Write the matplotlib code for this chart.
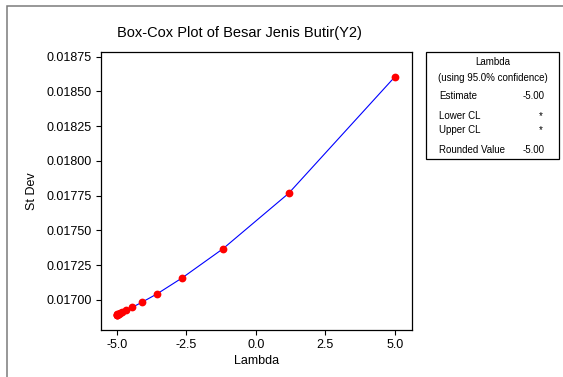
import matplotlib
matplotlib.use("Agg")
import matplotlib.pyplot as plt
from matplotlib.patches import Rectangle

plt.rcParams['font.family'] = ['Liberation Sans', 'DejaVu Sans']

# lambda values tried by the search and the resulting standard deviation
lambdas = [5.00, 1.18, -1.18, -2.64, -3.54, -4.10, -4.44, -4.66,
           -4.79, -4.87, -4.92, -4.95, -4.97, -4.98, -4.99, -5.00]
st_dev = [0.018606, 0.017766, 0.017367, 0.017158, 0.017043, 0.016981,
          0.016945, 0.016925, 0.016912, 0.016904, 0.016899, 0.016896,
          0.016894, 0.016893, 0.016892, 0.016891]

xticks = [-5.0, -2.5, 0.0, 2.5, 5.0]
yticks = [0.01700, 0.01725, 0.01750, 0.01775, 0.01800, 0.01825, 0.01850, 0.01875]

title = "Box-Cox Plot of Besar Jenis Butir(Y2)"
box_rows = [("Estimate", "-5.00"), ("Lower CL", "*"), ("Upper CL", "*"),
            ("Rounded Value", "-5.00")]

W, H = 563, 377
fig = plt.figure(figsize=(W / 100, H / 100), dpi=100)


def px(x, y):
    # pixel position (top-left origin) -> figure fraction
    return x / W, 1 - y / H


# outer frame of the graph window
fig.patches.append(Rectangle(px(7, 400), 600 / W, 394 / H, transform=fig.transFigure,
                             fill=False, edgecolor='#7a7a7a', lw=1.1))

left, top = px(100.5, 52.3)
right, bottom = px(411.9, 330)
ax = fig.add_axes([left, bottom, right - left, top - bottom])

pairs = sorted(zip(lambdas, st_dev))
ax.plot([p[0] for p in pairs], [p[1] for p in pairs], color='#0000ff', lw=0.8, zorder=2)
ax.plot(lambdas, st_dev, 'o', color='#ff0000', markersize=5.6, markeredgewidth=0, zorder=3)

ax.set_xlim(-5.58, 5.61)
ax.set_ylim(0.016782, 0.018782)
ax.set_xticks(xticks)
ax.set_xticklabels(["%.1f" % v for v in xticks])
ax.set_yticks(yticks)
ax.set_yticklabels(["%.5f" % v for v in yticks])
ax.tick_params(direction='out', length=3.5, width=0.8, labelsize=9, pad=3,
               top=False, right=False)
for s in ax.spines.values():
    s.set_linewidth(0.9)

ax.set_xlabel("Lambda", fontsize=9, labelpad=3)
ax.set_ylabel("St Dev", fontsize=9)
ax.yaxis.set_label_coords(*[(31.6 - 100.5) / 311.4, 0.5])
ax.yaxis.label.set_va('center')

tx, ty = px(239, 33.3)
fig.text(tx, ty, title, fontsize=10.5, ha='center', va='center')

# summary box on the right
bx0, by0 = px(425.9, 159.3)
bx1, by1 = px(559, 52)
fig.patches.append(Rectangle((bx0, by0), bx1 - bx0, by1 - by0, transform=fig.transFigure,
                             fill=False, edgecolor='black', lw=0.9))
cx = (425.9 + 559) / 2
fig.text(*px(cx, 61.7), "Lambda", fontsize=7, ha='center', va='center')
fig.text(*px(cx, 77.7), "(using 95.0% confidence)", fontsize=7, ha='center', va='center')
row_y = [95.7, 116.3, 129.7, 149.7]
for (name, val), yy in zip(box_rows, row_y):
    fig.text(*px(438.8, yy), name, fontsize=7, ha='left', va='center')
    if val == "*":
        fig.text(*px(540.5, yy), val, fontsize=7, ha='center', va='center')
    else:
        fig.text(*px(544.5, yy), val, fontsize=7, ha='right', va='center')

fig.savefig("out.png", dpi=100)
